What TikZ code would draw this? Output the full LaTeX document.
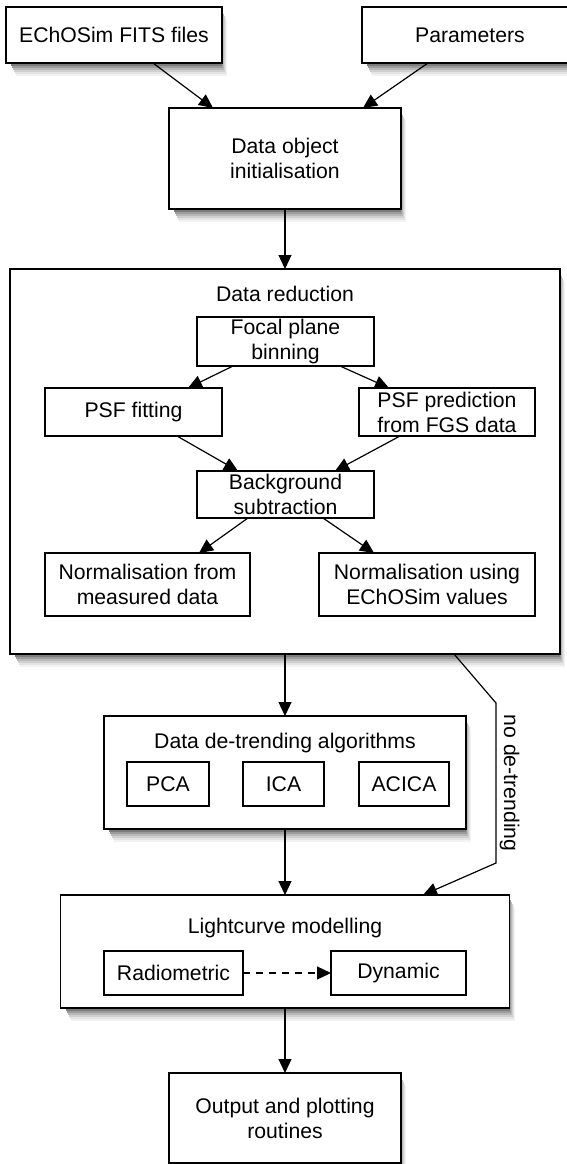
\documentclass[tikz,border=0pt]{standalone}
\usepackage{fontspec}
\setmainfont{Liberation Sans}
\usetikzlibrary{arrows.meta,calc}

\begin{document}
\begin{tikzpicture}[x=0.5pt,y=-0.5pt,
    font=\fontsize{10.6}{12.5}\selectfont,
    box/.style={draw, fill=white, line width=0.6pt, inner sep=0pt, outer sep=0pt, align=center},
    inbox/.style={draw, fill=white, line width=0.6pt, inner sep=0pt, outer sep=0pt, align=center},
    arr/.style={line width=0.6pt, -{Triangle[length=7pt,width=6.5pt]}},
    heading/.style={inner sep=0pt}]
  \useasboundingbox (0,0) rectangle (567,1164);

  % soft shadows first, in RGB greys
  \foreach \sx/\sy/\sw/\sh in {6/7/216/56, 362/7/216/56, 169/108/232/101, 10/269/550/385, 104/716/362/113, 61/895/449/113, 169/1073/232/90}
    \foreach \dx/\dy/\tone in {7/13/242, 6/11/228, 5/9/208, 4/7/184, 3/5/156, 2/3/125}
      \fill[fill={rgb,255:red,\tone;green,\tone;blue,\tone}] (\sx+\dx+3,\sy+\dy) rectangle (\sx+\sw+\dx-2,\sy+\sh+\dy);

  % inputs
  \node[box, minimum width=108pt, minimum height=28pt] (files) at (114,35) {EChOSim FITS files};
  \node[box, minimum width=108pt, minimum height=28pt] (params) at (470,35) {Parameters};
  \node[box, minimum width=116pt, minimum height=50.5pt] (init) at (285,158.5) {Data object\\initialisation};
  \draw[arr] ($(files.south)+(39,0)$) -- ($(init.north)+(-72,0)$);
  \draw[arr] ($(params.south)+(-42,0)$) -- ($(init.north)+(78,0)$);

  % data reduction
  \node[box, minimum width=275pt, minimum height=192.5pt] (reduction) at (285,461.5) {};
  \node[heading] (redtitle) at (285,294) {Data reduction};
  \node[inbox, minimum width=88.5pt, minimum height=24.5pt] (focal) at (285.5,341.5) {Focal plane\\binning};
  \node[inbox, minimum width=88.5pt, minimum height=24pt] (fit) at (133.5,412) {PSF fitting};
  \node[inbox, minimum width=88pt, minimum height=24pt] (predict) at (447,412) {PSF prediction\\from FGS data};
  \node[inbox, minimum width=88.5pt, minimum height=23.5pt] (background) at (285.5,494.5) {Background\\subtraction};
  \node[inbox, minimum width=102.5pt, minimum height=31.5pt] (normfrom) at (147.5,584.5) {Normalisation from\\measured data};
  \node[inbox, minimum width=108pt, minimum height=31.5pt] (normusing) at (427,584.5) {Normalisation using\\EChOSim values};
  \draw[arr] ($(focal.south)+(-52.5,0)$) -- ($(fit.north)+(54.5,0)$);
  \draw[arr] ($(focal.south)+(54.5,0)$) -- ($(predict.north)+(-58,0)$);
  \draw[arr] ($(fit.south)+(43.5,0)$) -- ($(background.north)+(-47.5,0)$);
  \draw[arr] ($(predict.south)+(-47,0)$) -- ($(background.north)+(49.5,0)$);
  \draw[arr] ($(background.south)+(-37.5,0)$) -- ($(normfrom.north)+(51.5,0)$);
  \draw[arr] ($(background.south)+(37.5,0)$) -- ($(normusing.north)+(-53,0)$);
  \draw[arr] (init.south) -- (reduction.north);

  % de-trending
  \node[box, minimum width=181pt, minimum height=56.5pt] (detrend) at (285,772.5) {};
  \node[heading] (dettitle) at (285,743) {Data de-trending algorithms};
  \node[inbox, minimum width=41pt, minimum height=22pt] (pca) at (168,784) {PCA};
  \node[inbox, minimum width=40.5pt, minimum height=22pt] (ica) at (283.5,784) {ICA};
  \node[inbox, minimum width=45pt, minimum height=22pt] (acica) at (404,784) {ACICA};
  \draw[arr] (reduction.south) -- (detrend.north);

  % lightcurve modelling
  \node[box, minimum width=224.5pt, minimum height=56.5pt] (lightcurve) at (285,951.5) {};
  \node[heading] (lctitle) at (285,928) {Lightcurve modelling};
  \node[inbox, minimum width=69.5pt, minimum height=22pt] (radio) at (173.5,973) {Radiometric};
  \node[inbox, minimum width=67.5pt, minimum height=22pt] (dynamic) at (398.5,973) {Dynamic};
  \draw[arr, dash pattern=on 3.5pt off 3pt] (radio.east) -- (dynamic.west);
  \draw[arr] (detrend.south) -- (lightcurve.north);

  % bypass
  \coordinate (bend1) at (496,703);
  \coordinate (bend2) at (496,863);
  \draw[arr] ($(reduction.south)+(169,0)$) -- (bend1) -- (bend2)
    node[midway, rotate=-90, anchor=south, inner sep=1.5pt] {no de-trending}
    -- ($(lightcurve.north)+(138,0)$);

  % output
  \node[box, minimum width=116pt, minimum height=45pt] (output) at (285,1118) {Output and plotting\\routines};
  \draw[arr] (lightcurve.south) -- (output.north);
\end{tikzpicture}
\end{document}
